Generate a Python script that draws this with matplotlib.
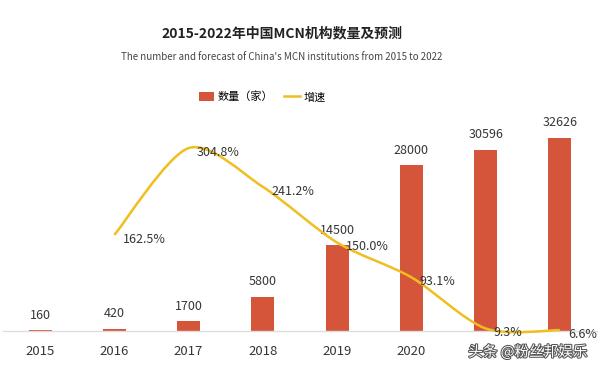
import numpy as np
import matplotlib
matplotlib.use("Agg")
import matplotlib.pyplot as plt
from matplotlib.path import Path
from matplotlib.patches import PathPatch, Patch
from matplotlib.lines import Line2D
import matplotlib.patheffects as pe

plt.rcParams['font.family'] = ['Noto Sans CJK SC', 'DejaVu Sans']

# data
years = ['2015', '2016', '2017', '2018', '2019', '2020', '2021', '2022']
counts = [160, 420, 1700, 5800, 14500, 28000, 30596, 32626]
growth_years = [1, 2, 3, 4, 5, 6, 7]   # index into years, 2016..2022
growth = [162.5, 304.8, 241.2, 150.0, 93.1, 9.3, 6.6]

bar_col = '#D4553A'
line_col = '#F0BE1E'
txt_col = '#363636'

fig = plt.figure(figsize=(6, 3.72), dpi=100)
ax = fig.add_axes([0.005, 0.110, 0.99, 0.594])
x = np.arange(len(years))
ax.bar(x, counts, width=0.31, color=bar_col, zorder=2)
ax.set_xlim(-0.5, 7.5)
ax.set_ylim(0, 37275)
for i, v in enumerate(counts):
    ax.annotate(str(v), (x[i], v), xytext=(0, 6), textcoords='offset points',
                ha='center', va='bottom', fontsize=9, color=txt_col)

ax.set_xticks(x)
ax.set_xticklabels(years, fontsize=9.5, color=txt_col, fontweight='medium')
ax.tick_params(axis='x', length=0, pad=10)
ax.set_yticks([])
for s in ['top', 'left', 'right']:
    ax.spines[s].set_visible(False)
ax.spines['bottom'].set_color('#DDDDDD')
ax.spines['bottom'].set_linewidth(1)

# growth line, smoothed with bezier segments through the data points
ax2 = ax.twinx()
ax2.set_ylim(5, 367)
ax2.axis('off')
px = np.array(growth_years, dtype=float)
py = np.array(growth, dtype=float)
P = np.column_stack([px, py])
Pe = np.vstack([P[0], P, P[-1]])
verts = [P[0]]
codes = [Path.MOVETO]
k = 1 / 7
for i in range(len(P) - 1):
    p0, p1, p2, p3 = Pe[i], Pe[i + 1], Pe[i + 2], Pe[i + 3]
    verts += [p1 + (p2 - p0) * k, p2 - (p3 - p1) * k, p2]
    codes += [Path.CURVE4] * 3
ax2.add_patch(PathPatch(Path(verts, codes), facecolor='none',
                        edgecolor=line_col, lw=1.8, zorder=3, clip_on=False))
for xi, g in zip(growth_years, growth):
    ax2.annotate(f'{g:.1f}%', (xi, g), xytext=(6, -3), textcoords='offset points',
                 ha='left', va='center', fontsize=9, color=txt_col)

fig.text(0.47, 1 - 33 / 372, '2015-2022年中国MCN机构数量及预测', ha='center',
         va='center', fontsize=10, fontweight='bold', color='#222222')
fig.text(0.47, 1 - 57 / 372,
         "The number and forecast of China's MCN institutions from 2015 to 2022",
         ha='center', va='center', fontsize=7, color='#444444')

handles = [Patch(facecolor=bar_col, edgecolor='none'),
           Line2D([], [], color=line_col, lw=1.8)]
fig.legend(handles, ['数量（家）', '增速'], loc='center', ncol=2,
           bbox_to_anchor=(262 / 600, 1 - 97 / 372), frameon=False,
           fontsize=8, handlelength=1.4, handleheight=0.8, columnspacing=1.0,
           handletextpad=0.3)

fig.text(528 / 600, 1 - 352 / 372, '头条 @粉丝邦娱乐', ha='center', va='center',
         fontsize=10.5, color='white', zorder=10,
         path_effects=[pe.withStroke(linewidth=1.5, foreground='#555555')],
         bbox=dict(facecolor='white', edgecolor='none', pad=1))

fig.savefig('out.png', dpi=100)
